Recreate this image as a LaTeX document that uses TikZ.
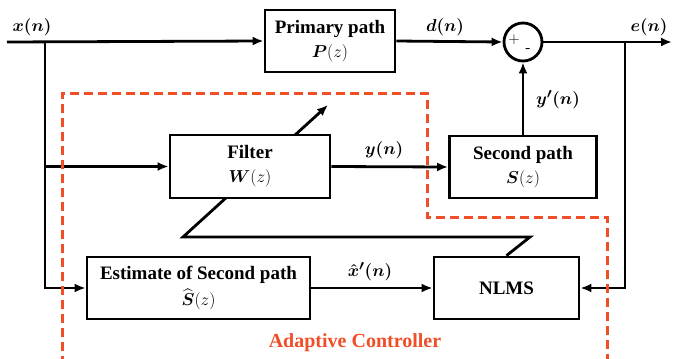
\documentclass[tikz,border=0pt]{standalone}
\usepackage{amsmath}
\usepackage{fontspec}
\setmainfont{Liberation Serif}
\usetikzlibrary{arrows.meta}
\definecolor{ctrlred}{RGB}{240,78,40}
\begin{document}
\begin{tikzpicture}[x=1pt,y=-1pt,
  every node/.style={font=\fontsize{19}{23}\selectfont\bfseries},
  blk/.style={draw, line width=2.8pt, fill=white, inner sep=0pt, align=center},
  wire/.style={line width=2.8pt},
  arr/.style={wire, -{Latex[length=11pt,width=9pt]}},
  lbl/.style={font=\fontsize{19}{23}\selectfont\boldmath},
  ctrl/.style={draw=ctrlred, line width=3pt, dash pattern=on 9pt off 5pt}
]
\useasboundingbox (0,0) rectangle (673,359);
\clip (0,0) rectangle (673,359);

% blocks
\node[blk, minimum width=130pt, minimum height=62pt] (primary) at (330,41) {Primary path\\[1pt]$\boldsymbol{P}(z)$};
\node[draw, circle, line width=2.8pt, minimum size=38pt, inner sep=0pt] (sum) at (523,42) {};
\node[font=\sffamily\fontsize{15}{15}\selectfont] (plus) at (514,40) {+};
\node[font=\sffamily\bfseries\fontsize{15}{15}\selectfont] (minus) at (528,51) {-};
\node[blk, minimum width=147pt, minimum height=62pt] (second) at (523,167) {Second path\\[1pt]$\boldsymbol{S}(z)$};
\node[blk, minimum width=223pt, minimum height=62pt] (est) at (198.5,288) {Estimate of Second path\\[3pt]$\widehat{\boldsymbol{S}}(z)$};
\node[blk, minimum width=145pt, minimum height=62pt] (nlms) at (506.5,288) {NLMS};

% adaptation arrow (behind the filter block)
\coordinate (a1) at (530,237);
\coordinate (a2) at (183,237);
\coordinate (a3) at (328,105);
\draw[arr] (nlms.north) -- (a1) -- (a2) -- (a3);

\node[blk, minimum width=160pt, minimum height=63pt] (filter) at (250,166.5) {Filter\\[1pt]$\boldsymbol{W}(z)$};

% connectors
\coordinate (xs) at (7,42);
\coordinate (eo) at (672,42);
\coordinate (bx) at (45,42);
\coordinate (be) at (625,42);
\draw[arr] (xs) -- (primary.west);
\draw[arr] (primary.east) -- (sum.west);
\draw[arr] (sum.east) -- (eo);
\draw[arr] (bx) |- (est.west);
\draw[arr] (bx |- filter.west) -- (filter.west);
\draw[arr] (filter.east) -- (second.west);
\draw[arr] (second.north) -- (sum.south);
\draw[arr] (be) |- (nlms.east);
\draw[arr] (est.east) -- (nlms.west);

% labels
\node[lbl] (xl) at (32,27) {$x(n)$};
\node[lbl] (dl) at (445,27) {$d(n)$};
\node[lbl] (el) at (649,27) {$e(n)$};
\node[lbl] (ypl) at (558,100) {$y'(n)$};
\node[lbl] (yl) at (384,150) {$y(n)$};
\node[lbl] (xhl) at (370,272) {$\hat{x}'(n)$};

% adaptive controller frame
\draw[ctrl] (62,365) -- (62,93) -- (427,93) -- (427,217) -- (607,217) -- (607,365);
\node[font=\fontsize{20}{24}\selectfont\bfseries, text=ctrlred] (ac) at (355,343) {Adaptive Controller};
\end{tikzpicture}
\end{document}
